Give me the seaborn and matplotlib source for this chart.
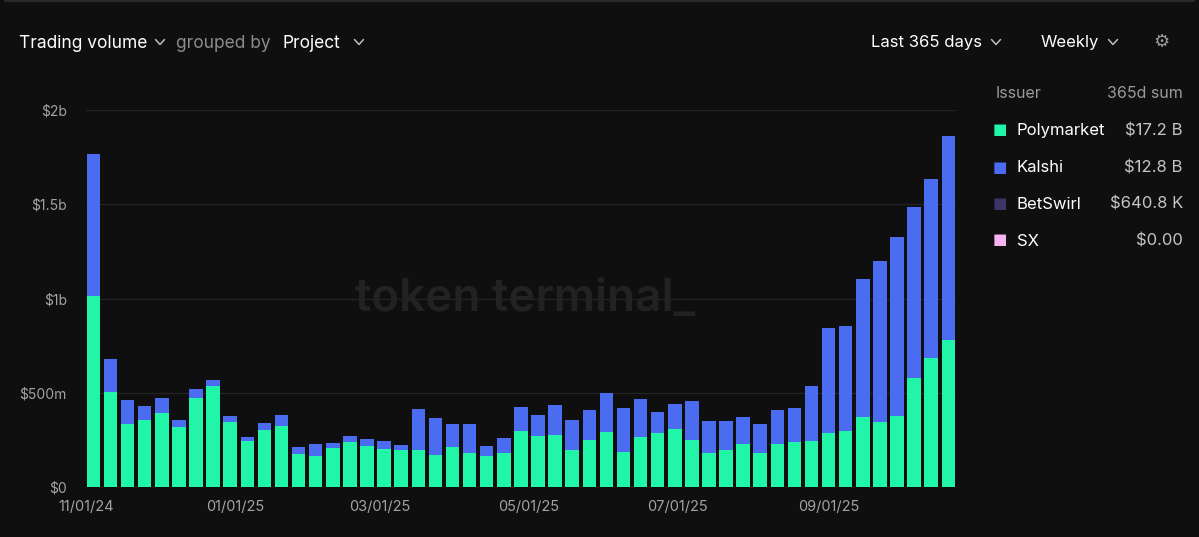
import numpy as np
import pandas as pd
import matplotlib
matplotlib.use("Agg")
import matplotlib.pyplot as plt
import seaborn as sns
from matplotlib.lines import Line2D

# ---------------- data ($ millions, weekly) ----------------
start_date = "2024-11-01"
n_weeks = 51
polymarket_m = [1016, 506, 334, 359, 396, 321, 475, 536, 348, 244,
                306, 324, 178, 164, 207, 239, 219, 202, 196, 196,
                170, 214, 182, 164, 182, 300, 272, 279, 200, 249,
                292, 187, 267, 286, 309, 249, 182, 200, 230, 184,
                231, 239, 244, 286, 299, 371, 346, 378, 580, 684, 780]
kalshi_m = [752, 176, 127, 74, 79, 38, 48, 32, 30, 23,
            35, 60, 36, 66, 30, 35, 37, 42, 28, 218,
            196, 120, 152, 53, 78, 126, 112, 159, 157, 159,
            207, 232, 201, 115, 135, 207, 171, 153, 141, 152,
            177, 182, 293, 561, 558, 732, 854, 950, 907, 950, 1080]

tick_dates = ["2024-11-01", "2025-01-01", "2025-03-01", "2025-05-01", "2025-07-01", "2025-09-01"]
tick_labels = ["11/01/24", "01/01/25", "03/01/25", "05/01/25", "07/01/25", "09/01/25"]
ytick_values = [0, 500, 1000, 1500, 2000]
ytick_labels = ["$0", "$500m", "$1b", "$1.5b", "$2b"]

legend_names = ["Polymarket", "Kalshi", "BetSwirl", "SX"]
legend_sums = ["$17.2 B", "$12.8 B", "$640.8 K", "$0.00"]

# ---------------- style ----------------
BG = "#0f0f10"
GREEN = "#20f5a8"
BLUE = "#4b6cf0"
PURPLE = "#3d3566"
PINK = "#f7b2f2"
legend_colors = [GREEN, BLUE, PURPLE, PINK]

sns.set_style("dark")
plt.rcParams["font.family"] = ["Inter", "DejaVu Sans"]

weeks = pd.date_range(start_date, periods=n_weeks, freq="7D")
df = pd.DataFrame({
    "week": weeks.strftime("%Y-%m-%d"),
    "polymarket": polymarket_m,
    "kalshi": kalshi_m,
})
df["total"] = df["polymarket"] + df["kalshi"]
order = list(df["week"])

W, H = 1199, 537
fig = plt.figure(figsize=(W / 100, H / 100), dpi=100, facecolor=BG)
ax = fig.add_axes([86 / W, (H - 487.3) / H, (956 - 86) / W, (487.3 - 110) / H])
ax.set_facecolor(BG)

# watermark
fig.text(525 / W, 1 - 299 / H, "token terminal_", color="#222223", fontsize=33,
         fontweight="semibold", ha="center", va="center", zorder=0)
ax.patch.set_alpha(0)

bw = 0.79
sns.barplot(data=df, x="week", y="total", order=order, color=BLUE, saturation=1,
            width=bw, linewidth=0, ax=ax, zorder=3)
sns.barplot(data=df, x="week", y="polymarket", order=order, color=GREEN, saturation=1,
            width=bw, linewidth=0, ax=ax, zorder=4)

ax.set_ylim(0, 2000)
ax.set_xlim(-0.435, n_weeks - 1 + 0.45)
ax.set_xlabel("")
ax.set_ylabel("")

# grid
for v in ytick_values[1:]:
    ax.axhline(v, color="#232324", lw=1, zorder=1)
ax.axhline(0, color="#1c1c1d", lw=1, zorder=1)

t0 = pd.Timestamp(start_date)
xt = [(pd.Timestamp(d) - t0).days / 7 - bw / 2 for d in tick_dates]
ax.set_xticks(xt, tick_labels)
ax.set_yticks(ytick_values, ytick_labels)
ax.tick_params(axis="x", colors="#262627", length=6, width=1, labelcolor="#a3a3a3",
               labelsize=10.5, pad=3)
ax.tick_params(axis="y", length=0, labelcolor="#a3a3a3", labelsize=10, pad=13.7)
ax.grid(False)
for s in ax.spines.values():
    s.set_visible(False)

# ---------------- header ----------------
def px(x, y):
    return x / W, 1 - y / H

def chevron(x, y, col="#bdbdbd"):
    xs = [x - 4.5, x, x + 4.5]
    ys = [y - 2.5, y + 2.5, y - 2.5]
    fig.add_artist(Line2D([a / W for a in xs], [1 - b / H for b in ys],
                          color=col, lw=1.1, transform=fig.transFigure))

hy = 42
fig.text(*px(19, hy + 1), "Trading volume", color="white", fontsize=12.5, va="center", ha="left")
chevron(160, hy)
fig.text(*px(176, hy + 1), "grouped by", color="#8c8c8c", fontsize=12.5, va="center", ha="left")
fig.text(*px(282, hy + 1), "Project", color="white", fontsize=12.5, va="center", ha="left")
chevron(359, hy)
fig.text(*px(871, hy + 1), "Last 365 days", color="white", fontsize=12, va="center", ha="left")
chevron(996, hy)
fig.text(*px(1041, hy + 1), "Weekly", color="white", fontsize=12, va="center", ha="left")
chevron(1113, hy)
fig.text(*px(1161, hy), "\u2699", color="#9a9a9a", fontsize=13, va="center", ha="center",
         family="DejaVu Sans")

# ---------------- legend panel ----------------
fig.text(*px(996, 94), "Issuer", color="#9a9a9a", fontsize=11.5, va="center", ha="left")
fig.text(*px(1183, 94), "365d sum", color="#9a9a9a", fontsize=11.5, va="center", ha="right")
row_y = [131, 168, 204.5, 241]
for name, val, col, ry in zip(legend_names, legend_sums, legend_colors, row_y):
    fig.text(*px(1000, ry - 1), "\u25A0", color=col, fontsize=11, va="center", ha="center",
             family="DejaVu Sans")
    fig.text(*px(1017, ry), name, color="white", fontsize=12, va="center", ha="left")
    fig.text(*px(1183, ry), val, color="#c4c4c4", fontsize=12, va="center", ha="right")

# subtle top border
fig.add_artist(Line2D([0.004, 0.996], [0.998, 0.998], color="#2a2a2b", lw=1.5,
                      transform=fig.transFigure))

fig.savefig("out.png", dpi=100, facecolor=BG)
